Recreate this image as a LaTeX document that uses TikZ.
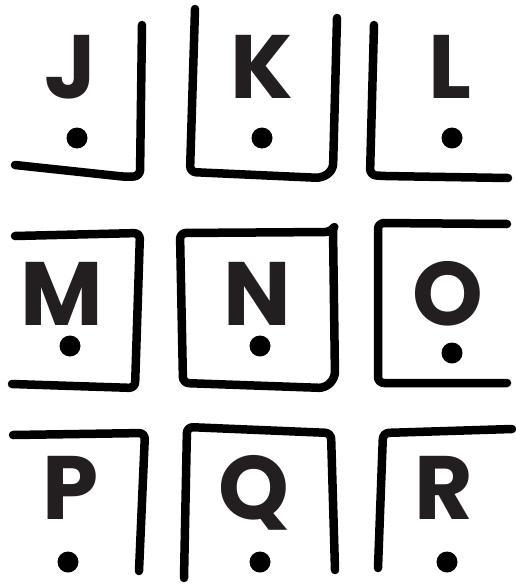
\documentclass[tikz,border=0pt]{standalone}
\usepackage{fontspec}
\setmainfont{Poppins}
\definecolor{ink}{HTML}{231F20}
\begin{document}
\begin{tikzpicture}[x=1pt,y=-1pt,
  stroke/.style={line width=8.5pt,line cap=round,line join=round,rounded corners=6pt},
  letter/.style={anchor=base,inner sep=0pt,text=ink,font=\fontsize{90}{90}\selectfont\bfseries},
  pip/.style={circle,fill=black,inner sep=0pt,minimum size=21pt}]
\useasboundingbox (0,0) rectangle (516,586);
% row 1
\draw[stroke] (15,165) -- (127,177) -- (140,176) -- (142,25);
\draw[stroke] (195,9) -- (190,172) -- (322,178) -- (333,170) -- (337,18);
\draw[stroke] (374,25) -- (370,175) -- (383,176) -- (508,178);
\node[letter] (J) at (71,98) {J};
\node[letter] (K) at (262,98) {K};
\node[letter] (L) at (450,98) {L};
\node[pip] (dJ) at (77,138) {};
\node[pip] (dK) at (262,138) {};
\node[pip] (dL) at (452,138) {};
% row 2
\draw[stroke] (15,236) -- (140,233) -- (135,388) -- (12,384);
\draw[stroke] (333,229) -- (331,232) -- (180,233) -- (183,383) -- (325,388) -- (335,378) -- (333,229);
\draw[stroke] (507,224) -- (378,223) -- (378,383) -- (507,383);
\node[letter] (M) at (62,325) {M};
\node[letter] (N) at (257,325) {N};
\node[letter] (O) at (448,325) {O};
\node[pip] (dM) at (70,346) {};
\node[pip] (dN) at (260,346) {};
\node[pip] (dO) at (452,353) {};
% row 3
\draw[stroke] (13,435) -- (145,433) -- (139,571);
\draw[stroke] (184,578) -- (187,427) -- (331,433) -- (335,570);
\draw[stroke] (378,568) -- (383,433) -- (512,429);
\node[letter] (P) at (71,519) {P};
\node[letter] (Q) at (254,519) {Q};
\node[letter] (R) at (444,519) {R};
\node[pip] (dP) at (68,562) {};
\node[pip] (dQ) at (260,562) {};
\node[pip] (dR) at (447,562) {};
\end{tikzpicture}
\end{document}
